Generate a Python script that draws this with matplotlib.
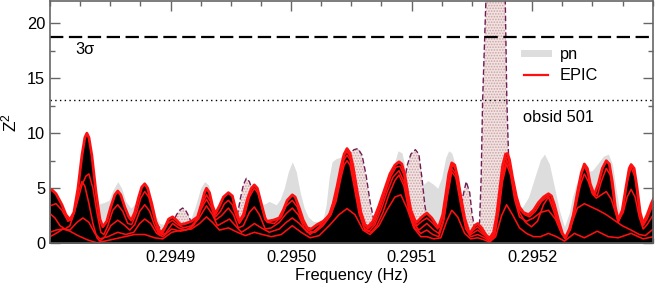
import numpy as np
import matplotlib
matplotlib.use("Agg")
import matplotlib.pyplot as plt
from matplotlib.lines import Line2D
from matplotlib.ticker import MultipleLocator

plt.rcParams['font.family'] = ['Liberation Sans', 'DejaVu Sans']
plt.rcParams['mathtext.default'] = 'regular'
plt.rcParams['hatch.linewidth'] = 0.8

# Frequencies are given as offsets from F0, in micro-Hz
F0 = 0.2948

# EPIC (top curve, black filled)
env_df = [0.0, 1.7, 5.0, 9.9, 13.2, 16.5, 19.8, 23.2, 26.5, 28.9, 30.6, 32.3, 34.7, 38.0, 41.4, 43.8,
          47.1, 50.4, 53.8, 56.2, 58.7, 62.0, 65.3, 67.4, 70.3, 73.6, 76.1, 78.6, 81.0, 84.4, 87.7,
          91.8, 95.1, 98.4, 101.7, 105.0, 108.3, 112.5, 117.4, 122.4, 125.7, 128.2, 129.8, 132.3,
          134.8, 137.3, 140.6, 143.9, 148.0, 151.3, 153.8, 157.1, 160.4, 163.7, 167.1, 169.5, 172.0,
          175.3, 178.6, 180.3, 185.2, 190.2, 193.5, 196.8, 201.0, 203.4, 206.8, 210.1, 213.4, 216.7,
          221.6, 226.6, 231.6, 234.9, 238.2, 241.5, 244.0, 246.4, 248.9, 251.4, 254.7, 258.0, 261.3,
          263.8, 267.9, 272.9, 277.9, 282.0, 286.1, 289.5, 291.9, 294.4, 296.9, 299.4, 302.7, 304.3,
          308.5, 312.6, 316.7, 320.9, 322.5, 325.8, 328.3, 330.8, 333.3, 335.8, 338.2, 340.7, 344.0,
          347.3, 349.0, 352.3, 354.8, 358.1, 361.4, 364.7, 368.0, 370.5, 373.0, 375.4, 377.9, 379.6,
          381.2, 383.7, 387.0, 389.5, 392.8, 397.0, 401.1, 405.2, 409.4, 413.5, 416.0, 418.5, 421.8,
          425.1, 427.6, 430.9, 434.2, 437.5, 440.8, 443.3, 445.8, 448.2, 451.5, 454.9, 458.2, 461.5,
          464.0, 466.5, 469.0, 471.4, 474.7, 478.0, 480.5, 482.1, 484.6, 487.1, 489.6, 492.1, 495.4,
          498.8, 500.5]
env_z = [4.8, 4.85, 4.5, 3.5, 2.6, 2.15, 2.8, 5.0, 8.0, 9.6, 10.0, 9.6, 8.0, 4.8, 2.2, 1.5,
         2.0, 3.3, 4.4, 4.75, 4.4, 3.3, 2.4, 2.1, 2.8, 4.2, 5.1, 5.4, 5.0, 3.6, 2.0,
         0.9, 1.4, 2.2, 2.4, 2.1, 1.7, 1.8, 2.0, 2.4, 3.6, 4.6, 5.0, 4.6,
         3.4, 2.7, 3.4, 4.2, 4.6, 4.3, 3.2, 2.0, 2.6, 4.0, 5.0, 5.3, 5.0,
         3.6, 2.2, 2.0, 2.1, 2.3, 3.0, 3.9, 4.4, 4.2, 3.2, 2.1, 1.4, 1.3,
         1.7, 2.0, 2.5, 3.6, 5.2, 7.0, 8.1, 8.6, 8.2, 7.0, 4.8, 2.8, 1.7,
         1.5, 2.0, 3.4, 5.0, 6.3, 7.1, 7.4, 7.2, 6.2, 4.5, 3.0, 2.1, 1.9,
         2.4, 2.75, 2.3, 1.6, 1.5, 2.6, 4.4, 6.3, 7.3, 7.1, 6.0, 4.3, 2.3,
         1.1, 1.0, 1.6, 1.8, 1.4, 0.8, 0.45, 1.0, 2.5, 4.8, 7.0, 8.1, 8.15,
         7.6, 6.0, 4.2, 3.3, 2.8, 2.6, 3.0, 3.7, 4.2, 4.5, 4.3, 3.5, 2.1,
         0.9, 0.5, 1.3, 2.6, 4.6, 6.4, 7.2, 6.8, 5.4, 4.4, 5.4, 6.8, 7.5,
         7.2, 5.6, 3.3, 2.1, 3.0, 5.2, 6.8, 7.15, 6.8, 5.0, 2.8, 1.8, 2.6,
         3.6, 4.0]

# pn (grey)
pn_df = [0.0, 8.3, 16.5, 24.8, 31.4, 36.4, 38.9, 41.4, 44.7, 48.8, 52.1, 56.2, 59.5, 62.9, 67.0,
         71.1, 74.4, 77.8, 81.0, 84.4, 87.7, 91.0, 95.1, 99.2, 107.5, 115.8, 120.7, 124.9, 128.2,
         131.5, 134.8, 138.1, 144.7, 153.0, 161.3, 169.5, 175.3, 178.6, 181.9, 187.7, 191.0, 194.3,
         197.7, 201.0, 204.3, 207.6, 210.9, 214.2, 218.3, 223.3, 226.6, 229.1, 231.6, 234.0, 237.4,
         240.7, 244.0, 246.4, 249.7, 253.0, 257.2, 261.3, 265.5, 269.6, 277.0, 283.7, 288.7, 292.0,
         294.4, 297.7, 301.0, 305.2, 309.3, 313.4, 317.5, 321.7, 325.0, 328.3, 330.8, 333.3, 336.6,
         339.9, 343.2, 347.3, 352.3, 358.1, 363.1, 368.0, 372.2, 378.8, 384.6, 388.7, 392.0, 397.0,
         401.9, 406.9, 410.2, 414.3, 418.5, 422.6, 426.8, 430.9, 433.4, 436.7, 440.8, 444.9, 449.9,
         454.9, 459.0, 463.2, 466.5, 469.8, 473.1, 478.0, 482.1, 487.9, 493.8, 500.5]
pn_z = [3.0, 3.0, 1.5, 4.0, 6.0, 4.0, 3.0, 3.6, 3.7, 3.9, 4.8, 5.6, 5.0, 3.8, 3.2,
        3.6, 4.8, 5.6, 5.3, 4.0, 2.5, 1.8, 1.7, 1.8, 1.2, 1.9, 3.4, 5.0, 5.6,
        5.3, 3.8, 2.6, 3.0, 2.0, 2.0, 3.5, 3.5, 3.6, 3.8, 3.5, 4.0, 5.0,
        6.5, 7.4, 6.5, 4.6, 3.2, 2.4, 2.0, 1.9, 2.2, 3.5, 6.0, 7.4, 7.7,
        7.8, 8.2, 8.3, 8.0, 7.0, 5.2, 3.8, 2.7, 2.0, 4.0, 6.5, 8.4, 8.2,
        7.0, 4.6, 4.0, 4.4, 5.3, 5.7, 5.4, 5.0, 6.0, 7.8, 8.4, 8.2, 7.0,
        4.8, 3.0, 2.2, 1.9, 1.9, 1.7, 1.6, 3.0, 7.0, 4.0, 3.0, 3.3, 4.2,
        5.9, 7.6, 8.1, 7.2, 5.1, 3.0, 1.5, 2.8, 4.2, 5.4, 6.5, 6.5, 6.6,
        7.3, 7.9, 8.1, 7.2, 4.8, 2.5, 3.0, 5.0, 3.0, 1.5, 2.0]

# dashed curve with hatched fill
alt_df = [0.0, 79.4, 84.4, 87.7, 91.0, 94.3, 97.6, 102.5, 105.0, 107.5, 110.0, 112.5, 114.9, 118.3,
          121.6, 148.9, 153.0, 155.5, 158.0, 160.4, 162.9, 165.4, 167.9, 171.2, 175.3, 239.8, 244.8,
          248.1, 252.2, 255.5, 258.9, 262.2, 265.5, 268.8, 272.1, 289.5, 293.6, 296.1, 299.4, 303.1,
          306.0, 308.5, 311.0, 313.4, 316.7, 336.6, 339.9, 342.4, 345.3, 348.2, 350.2, 352.3, 354.8,
          356.4, 357.7, 358.9, 361.6, 363.9, 366.4, 369.7, 373.0, 375.5, 377.7, 379.0, 380.4, 382.1,
          385.4, 500.5]
alt_z = [0.2, 0.2, 3.4, 1.9, 1.4, 0.8, 1.2, 2.0, 2.6, 3.0, 3.2, 3.0, 2.5, 1.6,
         0.2, 0.2, 1.6, 2.6, 4.1, 5.3, 5.9, 5.6, 4.8, 2.5, 0.2, 0.2, 7.5,
         8.1, 8.5, 8.6, 8.0, 6.2, 3.8, 2.0, 0.5, 0.5, 5.0, 7.0, 8.1, 8.5,
         8.1, 6.0, 3.4, 2.0, 0.5, 0.5, 2.2, 4.2, 5.6, 4.6, 2.6, 1.4, 1.0,
         2.0, 6.0, 13.0, 22.0, 30.0, 38.0, 42.0, 38.0, 30.0, 22.0, 13.0, 8.0, 4.0,
         0.5, 0.5]

# other EPIC curves (thin red)
t1_df = [0.0, 5.0, 9.9, 14.9, 18.2, 22.3, 26.5, 29.8, 32.3, 35.6, 38.9, 42.2, 44.7, 48.0, 52.1,
         56.2, 60.4, 64.5, 67.8, 71.9, 75.3, 78.6, 81.9, 86.0, 90.1, 93.5, 97.6, 101.7, 105.9,
         110.8, 117.4, 122.4, 126.5, 129.8, 133.1, 137.3, 141.4, 144.7, 148.0, 151.3, 154.6, 157.1,
         161.3, 165.4, 169.5, 172.8, 177.0, 180.3, 186.1, 191.9, 196.0, 201.0, 205.1, 209.2, 214.2,
         218.3, 223.3, 228.3, 232.4, 236.5, 240.7, 244.0, 246.4, 248.9, 252.2, 256.4, 260.5, 263.8,
         268.8, 273.7, 278.7, 282.8, 287.0, 290.3, 293.6, 296.9, 300.2, 304.3, 308.5, 312.6, 316.7,
         321.7, 325.8, 329.1, 331.6, 334.1, 336.6, 339.9, 344.0, 348.2, 352.3, 354.8, 358.9, 363.9,
         368.0, 371.3, 374.6, 377.1, 379.6, 382.1, 385.4, 389.5, 393.7, 397.8, 402.7, 407.7, 413.5,
         417.6, 421.8, 425.1, 427.6, 431.7, 435.8, 440.0, 443.3, 446.6, 449.9, 454.0, 457.3, 461.5,
         464.8, 468.1, 471.4, 475.5, 478.8, 482.1, 485.4, 488.8, 492.1, 495.4, 500.5]
t1_z = [3.4, 3.6, 3.0, 2.0, 2.2, 3.6, 5.3, 6.1, 6.3, 5.0, 2.8, 1.0, 0.8, 1.6, 3.0,
        3.5, 2.9, 1.8, 1.7, 2.8, 4.1, 4.7, 4.2, 2.5, 1.0, 0.9, 1.8, 2.1, 1.7,
        1.4, 1.6, 2.2, 3.6, 4.4, 3.8, 2.4, 2.9, 3.6, 3.9, 3.5, 2.4, 1.8,
        2.5, 4.2, 5.0, 4.5, 2.8, 1.9, 1.8, 2.4, 3.4, 3.9, 3.3, 2.0, 1.2,
        1.0, 1.5, 2.2, 2.8, 4.2, 6.3, 8.0, 8.3, 7.9, 6.2, 3.4, 1.7, 1.3,
        1.8, 3.2, 4.8, 6.1, 6.9, 7.0, 6.2, 4.2, 2.4, 1.6, 2.0, 2.3, 1.9,
        1.3, 2.4, 4.8, 6.4, 7.1, 6.7, 4.8, 2.1, 0.9, 1.3, 1.5, 1.0, 0.5,
        0.9, 2.8, 5.8, 7.5, 7.9, 7.0, 4.8, 3.1, 2.6, 2.4, 2.9, 3.8, 4.3,
        3.4, 1.9, 0.8, 0.4, 1.4, 3.5, 6.0, 7.0, 6.2, 4.6, 4.3, 5.6, 6.8,
        6.2, 3.8, 1.9, 3.2, 5.6, 6.9, 6.0, 3.0, 1.6, 2.2, 3.6]

t2_df = [0.0, 4.1, 8.3, 12.4, 16.5, 20.7, 24.0, 26.5, 28.9, 32.3, 35.6, 38.9, 41.4, 45.5, 50.4,
         56.2, 61.2, 66.2, 70.3, 74.4, 78.6, 82.7, 86.8, 91.0, 95.9, 101.7, 106.7, 112.5, 119.1,
         124.9, 129.8, 134.0, 137.3, 142.2, 148.0, 152.2, 156.3, 160.4, 165.4, 169.5, 173.7, 178.6,
         183.6, 190.2, 196.0, 201.0, 205.9, 210.9, 215.8, 221.6, 228.3, 233.2, 237.3, 240.7, 244.0,
         246.4, 248.9, 252.2, 256.4, 260.5, 264.7, 269.6, 274.5, 279.5, 284.5, 289.5, 293.6, 297.7,
         301.8, 306.0, 312.6, 318.4, 322.5, 326.6, 329.9, 333.3, 336.6, 340.7, 344.9, 349.0, 354.8,
         360.6, 364.7, 368.9, 372.2, 375.4, 378.8, 382.1, 385.4, 389.5, 394.5, 399.4, 404.4, 409.4,
         413.5, 417.6, 421.8, 426.8, 431.7, 436.7, 440.0, 443.3, 446.6, 449.9, 453.2, 457.3, 461.5,
         465.6, 471.4, 475.5, 478.8, 482.1, 485.4, 488.8, 492.1, 495.4, 500.5]
t2_z = [2.7, 2.3, 1.6, 1.3, 1.6, 3.0, 4.8, 5.6, 5.2, 3.6, 1.8, 0.5, 0.2, 0.6, 1.6,
        2.1, 1.7, 1.2, 1.7, 2.9, 3.5, 2.9, 1.6, 0.7, 0.9, 1.8, 1.4, 1.2, 1.6,
        3.0, 4.0, 3.2, 2.1, 2.5, 3.2, 2.6, 1.4, 1.6, 2.8, 3.3, 2.6, 1.3,
        1.4, 1.9, 2.7, 3.2, 2.6, 1.4, 0.8, 1.3, 1.9, 2.6, 4.0, 6.0, 7.6,
        8.0, 7.6, 5.6, 3.0, 1.4, 1.1, 1.7, 3.0, 4.6, 6.0, 6.6, 5.6, 3.3,
        1.8, 1.2, 1.8, 1.2, 0.9, 2.2, 4.6, 6.8, 6.3, 3.8, 1.5, 0.8, 1.2,
        0.7, 0.3, 0.9, 3.0, 6.0, 7.6, 6.6, 4.4, 2.8, 1.9, 1.5, 2.0, 3.5,
        4.2, 3.0, 1.6, 0.5, 1.2, 3.6, 5.3, 6.3, 5.6, 4.5, 4.1, 4.4, 4.7,
        4.0, 2.0, 2.8, 4.2, 4.9, 4.2, 2.4, 1.3, 1.7, 2.6]

t3_df = [0.0, 5.0, 10.8, 16.5, 22.3, 27.3, 32.3, 37.2, 41.4, 48.0, 56.2, 62.9, 69.5, 74.4, 78.6,
         83.5, 88.5, 93.5, 101.0, 108.3, 115.8, 123.2, 129.8, 134.8, 138.9, 143.9, 148.9, 153.8,
         158.8, 164.6, 169.5, 175.3, 181.9, 190.2, 196.0, 201.0, 206.8, 213.4, 220.0, 226.6, 232.4,
         237.3, 241.5, 244.0, 246.4, 248.9, 252.2, 256.4, 261.3, 266.3, 271.2, 276.2, 281.1, 286.1,
         289.5, 293.6, 297.7, 302.7, 307.6, 312.6, 317.5, 322.5, 326.6, 329.9, 333.3, 336.6, 340.7,
         344.9, 349.0, 354.8, 360.6, 364.7, 368.9, 372.2, 375.4, 378.8, 382.1, 385.4, 389.5, 395.3,
         401.1, 406.9, 413.5, 419.3, 424.3, 427.6, 432.6, 437.5, 443.3, 449.1, 454.9, 461.5, 468.1,
         474.7, 482.1, 488.8, 493.8, 500.5]
t3_z = [1.0, 1.2, 1.3, 1.2, 1.9, 2.3, 1.9, 0.9, 0.4, 0.6, 1.0, 0.8, 1.0, 1.8, 2.2,
        1.8, 0.9, 0.6, 1.3, 1.1, 1.3, 2.2, 3.4, 2.6, 1.6, 1.9, 2.2, 1.6,
        1.0, 1.4, 1.8, 1.4, 1.0, 1.3, 1.9, 2.3, 1.8, 1.0, 1.0, 1.6, 2.5,
        3.8, 6.0, 7.1, 7.5, 7.1, 5.2, 2.7, 1.2, 1.0, 1.6, 2.8, 4.4, 5.7,
        6.2, 5.2, 3.0, 1.4, 0.9, 1.2, 0.8, 0.6, 2.0, 4.4, 6.5, 6.0, 3.5,
        1.3, 0.6, 0.8, 0.5, 0.2, 0.7, 2.8, 5.6, 7.2, 6.2, 4.0, 2.4, 2.0,
        2.3, 2.8, 3.0, 2.2, 0.9, 0.5, 1.7, 3.2, 3.6, 3.3, 3.0, 2.6, 2.1,
        1.6, 1.2, 0.8, 0.7, 1.3]

t4_df = [0.0, 5.0, 10.8, 16.5, 23.2, 31.4, 38.9, 45.5, 53.8, 62.0, 70.3, 78.6, 86.8, 93.5, 101.0,
         109.2, 117.4, 124.1, 129.8, 134.8, 140.6, 148.0, 155.5, 162.1, 169.5, 176.2, 183.6, 191.9,
         201.0, 208.4, 215.8, 223.3, 231.6, 239.8, 246.4, 253.0, 259.7, 265.5, 272.9, 279.5, 286.1,
         291.1, 296.1, 301.8, 307.6, 312.6, 318.4, 324.2, 329.1, 333.3, 338.2, 344.0, 349.0, 354.8,
         360.6, 364.7, 369.7, 374.6, 378.8, 383.7, 389.5, 395.3, 401.1, 406.9, 413.5, 420.2, 426.8,
         435.0, 443.3, 454.0, 463.2, 471.4, 482.1, 492.1, 500.5]
t4_z = [0.6, 0.9, 1.3, 1.1, 0.7, 0.3, 0.05, 0.2, 0.4, 0.6, 0.8, 0.8, 0.5, 0.4, 1.0,
        1.2, 1.3, 1.8, 2.4, 1.9, 1.2, 1.4, 1.0, 0.7, 1.0, 0.8, 0.6, 0.8,
        1.6, 1.0, 0.5, 0.7, 1.6, 2.6, 3.15, 2.6, 1.2, 0.8, 1.6, 3.0, 4.2,
        4.4, 3.2, 1.4, 0.6, 0.6, 0.4, 0.5, 2.0, 3.0, 2.4, 0.9, 0.4, 0.5,
        0.3, 0.1, 0.6, 2.5, 3.5, 2.6, 1.4, 0.9, 0.6, 0.6, 0.9, 0.6, 0.2,
        0.9, 0.5, 1.1, 0.6, 0.5, 0.9, 0.4, 0.6]

sig3_level = 18.7
dotted_level = 13.0
xtick_vals = [0.2949, 0.2950, 0.2951, 0.2952]
xtick_labels = ['0.2949', '0.2950', '0.2951', '0.2952']
legend_labels = ['pn', 'EPIC']


def hz(df):
    return F0 + np.asarray(df) * 1e-6


fig = plt.figure(figsize=(6.56, 2.85), dpi=100)
ax = fig.add_axes([50 / 656, 41.7 / 285, 602.7 / 656, 242.3 / 285])

ax.fill_between(hz(pn_df), 0, pn_z, color='#dddddd', lw=0, zorder=1)
ax.fill_between(hz(alt_df), 0, alt_z, facecolor='#f3e2e2', edgecolor='#c9a4a4',
                hatch='......', lw=0, zorder=2)
ax.plot(hz(alt_df), alt_z, color='#6e1e55', lw=1.0, ls=(0, (4, 2)), zorder=2.2)
ax.fill_between(hz(env_df), 0, env_z, color='black', lw=0, zorder=3)
for df, z in [(t4_df, t4_z), (t3_df, t3_z), (t2_df, t2_z), (t1_df, t1_z)]:
    ax.plot(hz(df), z, color='#ff1010', lw=1.15, zorder=4, solid_joinstyle='round')
ax.plot(hz(env_df), env_z, color='#ff1010', lw=2.0, zorder=5, solid_joinstyle='round')

ax.axhline(sig3_level, color='black', lw=1.6, ls=(0, (6, 2.5)), zorder=6)
ax.axhline(dotted_level, color='black', lw=1.0, ls=(0, (1, 2.4)), zorder=6)

ax.set_xlim(0.2948, 0.2953)
ax.set_ylim(0, 22)
ax.set_xticks(xtick_vals)
ax.set_xticklabels(xtick_labels)
ax.xaxis.set_minor_locator(MultipleLocator(0.000025))
ax.yaxis.set_major_locator(MultipleLocator(5))
ax.yaxis.set_minor_locator(MultipleLocator(2.5))

for s in ax.spines.values():
    s.set_color('#666666')
    s.set_linewidth(1.2)
    s.set_zorder(7)
ax.tick_params(which='both', direction='in', top=True, right=True, color='#666666',
               labelsize=11.8, labelcolor='black', width=1.0)
ax.tick_params(which='major', length=7)
ax.tick_params(which='minor', length=3.5)
ax.tick_params(axis='x', pad=5)
ax.tick_params(axis='y', pad=3.5)

ax.set_xlabel('Frequency (Hz)', fontsize=11.8, labelpad=2)
ax.set_ylabel('$Z^2$', fontsize=12.5)
ax.yaxis.set_label_coords(-0.05, 0.5)

ax.text(0.0415, 0.798, '3σ', transform=ax.transAxes, fontsize=11.8, ha='left', va='center')
ax.text(0.785, 0.519, 'obsid 501', transform=ax.transAxes, fontsize=11.8, ha='left', va='center')

handles = [Line2D([], [], color='#dddddd', lw=5), Line2D([], [], color='#ff1010', lw=1.6)]
ax.legend(handles, legend_labels, loc='upper left', bbox_to_anchor=(0.7865, 0.81),
          frameon=False, fontsize=11.8, handlelength=1.46, handletextpad=0.73,
          labelspacing=0.38, borderpad=0, borderaxespad=0)

fig.savefig('out.png', dpi=100)
